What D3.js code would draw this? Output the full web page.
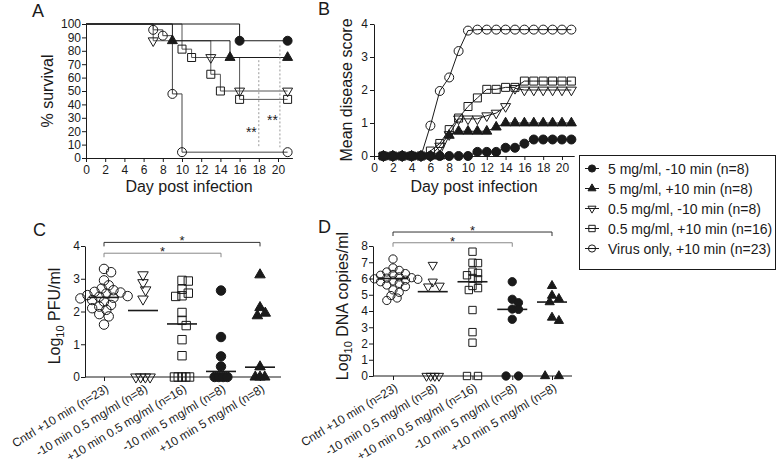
<!DOCTYPE html>
<html><head><meta charset="utf-8">
<script src="https://cdn.jsdelivr.net/npm/d3@7"></script>
<style>body{margin:0;background:#fff}svg{display:block}</style>
</head><body>
<svg id="chart" width="777" height="465"></svg>
<script>
// ---------------- DATA ----------------
const seriesLabels = ["5 mg/ml, -10 min (n=8)", "5 mg/ml, +10 min (n=8)", "0.5 mg/ml, -10 min (n=8)", "0.5 mg/ml, +10 min (n=16)", "Virus only, +10 min (n=23)"];

// Panel A: Kaplan-Meier steps (day, % survival)
const kmDays5m = [0, 16, 21];            const kmSurv5m = [100, 87.5, 87.5];
const kmDays5p = [0, 9, 15, 21];         const kmSurv5p = [100, 87.5, 75, 75];
const kmDays05m = [0, 7, 13, 16, 21];    const kmSurv05m = [100, 87.5, 75, 50, 50];
const kmDays05p = [0, 10, 11, 13, 14, 16, 21]; const kmSurv05p = [100, 81.25, 75, 62.5, 50, 43.75, 43.75];
const kmDaysVir = [0, 7, 8, 9, 10, 21];  const kmSurvVir = [100, 95.65, 91.3, 47.83, 4.35, 4.35];
const dayTicks = [0, 2, 4, 6, 8, 10, 12, 14, 16, 18, 20];
const survTicks = [0, 10, 20, 30, 40, 50, 60, 70, 80, 90, 100];
const sigDays = [18, 20.2];
const sigTop = [73, 84];
const sigBottom = [8, 8];
const sigStarVals = [22, 30.5];

// Panel B: mean disease score by day
const scoreDays = [1,2,3,4,5,6,7,8,9,10,11,12,13,14,15,16,17,18,19,20,21];
const score5m  = [0,0,0,0,0,0,0,0,0,0,0.125,0.125,0.125,0.25,0.25,0.375,0.5,0.5,0.5,0.5,0.5];
const score5p  = [0,0,0,0,0,0,0,0.625,0.75,0.75,0.75,0.75,0.875,1,1,1,1,1,1,1,1];
const score05m = [0,0,0,0,0,0,0.3,0.65,1.125,1.125,1.125,1.22,1.3,1.5,2.05,2.0,2.0,2.0,2.0,2.0,2.0];
const score05p = [0,0,0,0,0,0.15,0.38,0.8,1.15,1.5,1.76,2.02,2.02,2.08,2.08,2.27,2.27,2.27,2.27,2.27,2.27];
const scoreVir = [0,0,0,0,0,0.92,1.97,2.38,3.18,3.8,3.83,3.83,3.83,3.83,3.83,3.83,3.83,3.83,3.83,3.83,3.83];
const scoreTicks = [0, 1, 2, 3, 4];

// Panels C & D: groups
const groupLabels = ["Cntrl +10 min (n=23)", "-10 min 0.5 mg/ml (n=8)", "+10 min 0.5 mg/ml (n=16)", "-10 min 5 mg/ml (n=8)", "+10 min 5 mg/ml (n=8)"];
// C: log10 PFU/ml
const pfuCntrl = [3.3,3.2,2.95,2.8,2.7,2.65,2.6,2.58,2.55,2.5,2.47,2.45,2.42,2.4,2.35,2.3,2.2,2.15,2.1,2.05,1.92,1.85,1.6];
const pfu05m = [3.12,2.88,2.66,2.38,0,0,0,0];
const pfu05p = [2.95,2.93,2.68,2.56,2.48,2.46,1.97,1.73,1.57,1.14,0.65,0,0,0,0,0];
const pfu5m = [2.64,1.22,0.63,0.32,0,0,0,0];
const pfu5p = [3.12,2.12,1.95,1.87,0.31,0,0,0];
const pfuMedian = [2.43, 2.03, 1.62, 0.17, 0.3];
const pfuTicks = [0, 1, 2, 3, 4];
// D: log10 DNA copies/ml
const dnaCntrl = [7.2,6.65,6.5,6.4,6.3,6.25,6.2,6.1,6.05,6.02,5.98,5.95,5.9,5.85,5.8,5.7,5.6,5.5,5.3,5.15,4.95,4.8,4.65];
const dna05m = [6.83,5.8,5.55,5.5,0,0,0,0];
const dna05p = [7.65,6.97,6.95,6.42,6.34,6.2,6.03,5.95,5.54,5.41,5.29,4.06,2.7,2.05,0,0];
const dna5m = [5.8,4.72,4.51,4.12,4.1,3.49,0,0];
const dna5p = [5.55,4.95,4.75,4.55,3.6,3.4,0,0];
const dnaMedian = [6.0, 5.19, 5.8, 4.1, 4.55];
const dnaTicks = [0, 1, 2, 3, 4, 5, 6, 7, 8];
// significance brackets: [from group, to group], level in data units
const sigPairs = [[0, 4], [0, 3]];
const sigLevelsC = [4.11, 3.78];
const sigLevelsD = [8.86, 8.2];

// ---------------- HELPERS ----------------
const F = "'Liberation Sans', Arial, Helvetica, sans-serif";
const INK = "#1a1a1a";
const fmtInt = d3.format("d");
const svg = d3.select("#chart");
svg.append("rect").attr("width", 777).attr("height", 465).attr("fill", "#fff");

function symPath(shape, s) {
  const h = s / 2;
  if (shape === "circle") return `M${h},0A${h},${h} 0 1,1 ${-h},0A${h},${h} 0 1,1 ${h},0Z`;
  if (shape === "square") return `M${-h},${-h}H${h}V${h}H${-h}Z`;
  const a = s * 0.577, b = s * 0.289;
  if (shape === "triUp") return `M0,${-a}L${h},${b}L${-h},${b}Z`;
  return `M0,${a}L${h},${-b}L${-h},${-b}Z`;
}
const seriesStyle = [
  {shape: "circle", fill: true},
  {shape: "triUp", fill: true},
  {shape: "triDown", fill: false},
  {shape: "square", fill: false},
  {shape: "circle", fill: false}
];
const sizeScale = {circle: 9, square: 8, triUp: 10, triDown: 10};
function marker(g, x, y, st, k) {
  g.append("path")
    .attr("d", symPath(st.shape, sizeScale[st.shape] * (k || 1)))
    .attr("transform", `translate(${x},${y})`)
    .attr("fill", st.fill ? INK : "none")
    .attr("stroke", INK).attr("stroke-width", 1);
}
function styleAxis(g, fs) {
  g.attr("font-family", F).attr("font-size", fs);
  g.selectAll("path,line").attr("stroke", INK).attr("stroke-width", 1);
  g.selectAll("text").attr("fill", INK);
}
function txt(x, y, s, fs, anchor) {
  return svg.append("text").attr("x", x).attr("y", y).attr("font-family", F)
    .attr("font-size", fs).attr("fill", INK).attr("text-anchor", anchor || "start").text(s);
}
function rotTitle(x, y, parts) {
  const t = svg.append("text").attr("transform", `translate(${x},${y}) rotate(-90)`)
    .attr("font-family", F).attr("font-size", 16).attr("fill", INK).attr("text-anchor", "middle");
  parts.forEach(p => {
    const ts = t.append("tspan").text(p.t);
    if (p.sub) ts.attr("font-size", 11).attr("dy", 4);
    if (p.after) ts.attr("dy", -4);
  });
}
const TF = 12; // tick font size

// ---------------- PANEL A ----------------
const xA = d3.scaleLinear().domain([0, 21.5]).range([86, 292.4]);
const yA = d3.scaleLinear().domain([0, 100]).range([158, 24]);
styleAxis(svg.append("g").attr("transform", "translate(0,158)")
  .call(d3.axisBottom(xA).tickValues(dayTicks).tickFormat(fmtInt).tickSize(4).tickPadding(3).tickSizeOuter(0)), TF);
styleAxis(svg.append("g").attr("transform", "translate(86,0)")
  .call(d3.axisLeft(yA).tickValues(survTicks).tickFormat(fmtInt).tickSize(4).tickPadding(1).tickSizeOuter(0)), TF);

const kmSets = [[kmDays5m, kmSurv5m], [kmDays5p, kmSurv5p], [kmDays05m, kmSurv05m], [kmDays05p, kmSurv05p], [kmDaysVir, kmSurvVir]];
const kmColors = ["#1a1a1a", "#1a1a1a", "#555", "#555", "#444"];
const stepLine = d3.line().curve(d3.curveStepAfter).x(d => xA(d[0])).y(d => yA(d[1]));
const gA = svg.append("g");
[4, 3, 2, 1, 0].forEach(i => {
  const pts = kmSets[i][0].map((d, j) => [d, kmSets[i][1][j]]);
  gA.append("path").attr("d", stepLine(pts)).attr("fill", "none").attr("stroke", kmColors[i]).attr("stroke-width", 1);
});
[4, 3, 2, 1, 0].forEach(i => {
  kmSets[i][0].forEach((d, j) => { if (j > 0) marker(gA, xA(d), yA(kmSets[i][1][j]), seriesStyle[i]); });
});
sigDays.forEach((d, i) => {
  svg.append("line").attr("x1", xA(d)).attr("x2", xA(d)).attr("y1", yA(sigTop[i])).attr("y2", yA(sigBottom[i]))
    .attr("stroke", "#999").attr("stroke-width", 1).attr("stroke-dasharray", "2,2");
  txt(xA(d) - 2, yA(sigStarVals[i]) + 8, "**", 14, "end");
});
txt(189, 192, "Day post infection", 16, "middle");
rotTitle(53, 91, [{t: "% survival"}]);
txt(32, 17, "A", 18);

// ---------------- PANEL B ----------------
const xB = d3.scaleLinear().domain([0, 21.3]).range([374, 574.2]);
const yB = d3.scaleLinear().domain([0, 4]).range([156, 24]);
styleAxis(svg.append("g").attr("transform", "translate(0,156)")
  .call(d3.axisBottom(xB).tickValues(dayTicks).tickFormat(fmtInt).tickSize(4).tickPadding(3).tickSizeOuter(0)), TF);
styleAxis(svg.append("g").attr("transform", "translate(374,0)")
  .call(d3.axisLeft(yB).tickValues(scoreTicks).tickFormat(fmtInt).tickSize(4).tickPadding(2).tickSizeOuter(0)), TF);
const scoreSets = [score5m, score5p, score05m, score05p, scoreVir];
const lineB = d3.line().x((d, j) => xB(scoreDays[j])).y(d => yB(d));
const gB = svg.append("g");
[0, 4, 3, 2, 1].forEach(i => {
  gB.append("path").attr("d", lineB(scoreSets[i])).attr("fill", "none").attr("stroke", INK).attr("stroke-width", 1);
  scoreSets[i].forEach((v, j) => marker(gB, xB(scoreDays[j]), yB(v), seriesStyle[i]));
});
txt(474, 192, "Day post infection", 16, "middle");
rotTitle(352, 90, [{t: "Mean disease score"}]);
txt(318, 15, "B", 18);

// ---------------- LEGEND ----------------
svg.append("rect").attr("x", 579.5).attr("y", 155.5).attr("width", 196).attr("height", 114)
  .attr("fill", "none").attr("stroke", INK).attr("stroke-width", 1);
seriesLabels.forEach((s, i) => {
  const cy = 168.5 + i * 20;
  svg.append("line").attr("x1", 585).attr("x2", 599).attr("y1", cy).attr("y2", cy).attr("stroke", INK);
  marker(svg, 592, cy, seriesStyle[i], 0.8);
  txt(608, cy + 5, s, 14);
});

// ---------------- PANELS C & D ----------------
function swarm(vals, y, cx, size) {
  const counts = d3.rollup(vals, v => v.length, v => v);
  const placed = [];
  counts.forEach((n, v) => {
    if (n > 1) {
      const sp = n <= 2 ? size * 1.5 : size * 0.45;
      for (let j = 0; j < n; j++) placed.push({dx: (j - (n - 1) / 2) * sp, y: y(v)});
    }
  });
  const minD = size * 0.72, step = size * 0.25;
  vals.filter(v => counts.get(v) === 1).sort((a, b) => b - a).forEach(v => {
    const p = {y: y(v), dx: 0};
    for (let k = 0; k < 80; k++) {
      const off = (k === 0 ? 0 : (k % 2 ? 1 : -1) * Math.ceil(k / 2)) * step;
      if (placed.every(q => (q.dx - off) ** 2 + (q.y - p.y) ** 2 >= minD * minD)) { p.dx = off; break; }
    }
    placed.push(p);
  });
  return placed.map(p => ({x: cx + p.dx, y: p.y}));
}
const groupStyle = [seriesStyle[4], seriesStyle[2], seriesStyle[3], seriesStyle[0], seriesStyle[1]];

function dotPanel(cfg) {
  const x = d3.scalePoint().domain(groupLabels).range(cfg.xr);
  const y = d3.scaleLinear().domain(cfg.yd).range(cfg.yr);
  const axY = cfg.yr[0];
  const gx = svg.append("g").attr("transform", `translate(0,${axY})`)
    .call(d3.axisBottom(x).tickSize(4).tickSizeOuter(0));
  gx.select(".domain").remove();
  styleAxis(gx, TF);
  gx.selectAll("text").attr("text-anchor", "end").attr("x", null).attr("y", null).attr("dy", null)
    .attr("transform", "translate(5,14) rotate(-31)");
  svg.append("line").attr("x1", cfg.axX).attr("x2", cfg.xEnd).attr("y1", axY).attr("y2", axY).attr("stroke", INK);
  styleAxis(svg.append("g").attr("transform", `translate(${cfg.axX},0)`)
    .call(d3.axisLeft(y).tickValues(cfg.ticks).tickFormat(fmtInt).tickSize(4).tickPadding(1).tickSizeOuter(0)), TF);
  const g = svg.append("g");
  cfg.sets.forEach((vals, i) => {
    const st = groupStyle[i];
    const sz = sizeScale[st.shape] * cfg.k;
    swarm(vals, y, x(groupLabels[i]), sz).forEach(p => marker(g, p.x, p.y, st, cfg.k));
    const m = y(cfg.median[i]);
    g.append("line").attr("x1", x(groupLabels[i]) - 15).attr("x2", x(groupLabels[i]) + 15)
      .attr("y1", m).attr("y2", m).attr("stroke", INK).attr("stroke-width", 1.6);
  });
  sigPairs.forEach((pr, i) => {
    const by = y(cfg.sig[i]);
    const x1 = x(groupLabels[pr[0]]), x2 = x(groupLabels[pr[1]]);
    const col = i === 0 ? "#333" : "#888";
    svg.append("path").attr("d", `M${x1},${by + 4}V${by}H${x2}V${by + 4}`)
      .attr("fill", "none").attr("stroke", col).attr("stroke-width", 1);
    txt((x1 + x2) / 2, by + 3, "*", 13, "middle");
  });
}
dotPanel({xr: [104, 260], axX: 85, xEnd: 281, yd: [0, 4], yr: [377, 246], ticks: pfuTicks,
  sets: [pfuCntrl, pfu05m, pfu05p, pfu5m, pfu5p], median: pfuMedian, sig: sigLevelsC, k: 1.05});
rotTitle(60, 316, [{t: "Log"}, {t: "10", sub: true}, {t: " PFU/ml", after: true}]);
txt(33, 236, "C", 18);

dotPanel({xr: [393, 552], axX: 373, xEnd: 572, yd: [0, 8], yr: [376, 246], ticks: dnaTicks,
  sets: [dnaCntrl, dna05m, dna05p, dna5m, dna5p], median: dnaMedian, sig: sigLevelsD, k: 0.92});
rotTitle(348, 306, [{t: "Log"}, {t: "10", sub: true}, {t: " DNA copies/ml", after: true}]);
txt(318, 233, "D", 18);
</script>
</body></html>
